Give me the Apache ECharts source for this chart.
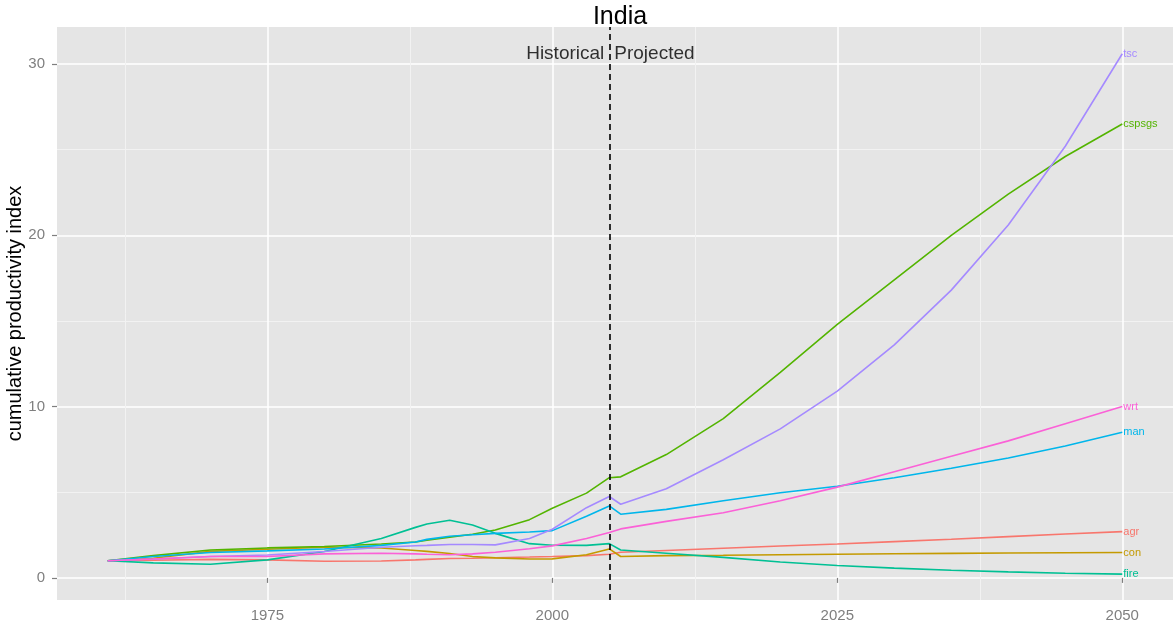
<!DOCTYPE html>
<html>
<head>
<meta charset="utf-8">
<title>India</title>
<script src="https://cdn.jsdelivr.net/npm/echarts@6.0.0/dist/echarts.min.js"></script>
<style>
  html, body { margin: 0; padding: 0; background: #fff; }
  #chart { width: 1174px; height: 630px; }
</style>
</head>
<body>
<div id="chart"></div>
<script>
// values
const years = [1961, 1965, 1970, 1975, 1980, 1985, 1988, 1989, 1991, 1993, 1995, 1998, 2000, 2003, 2005,
               2006, 2010, 2015, 2020, 2025, 2030, 2035, 2040, 2045, 2050];

const agr    = [1.0, 1.03, 1.08, 1.05, 0.97, 0.99, 1.05, 1.08, 1.13, 1.15, 1.18, 1.22, 1.25, 1.3, 1.38,
                1.5, 1.6, 1.73, 1.86, 1.98, 2.12, 2.26, 2.41, 2.56, 2.7];
const con    = [1.0, 1.15, 1.55, 1.67, 1.79, 1.75, 1.6, 1.55, 1.42, 1.25, 1.17, 1.1, 1.11, 1.35, 1.69,
                1.25, 1.3, 1.32, 1.35, 1.38, 1.41, 1.43, 1.45, 1.47, 1.48];
const cspsgs = [1.0, 1.3, 1.63, 1.75, 1.83, 1.98, 2.1, 2.2, 2.38, 2.55, 2.8, 3.4, 4.07, 4.95, 5.85,
                5.9, 7.2, 9.3, 12.0, 14.8, 17.4, 20.0, 22.4, 24.6, 26.5];
const fire   = [1.0, 0.88, 0.8, 1.05, 1.54, 2.3, 2.95, 3.15, 3.37, 3.09, 2.6, 2.0, 1.91, 1.9, 2.0,
                1.63, 1.44, 1.2, 0.93, 0.72, 0.57, 0.45, 0.35, 0.27, 0.22];
const man    = [1.0, 1.25, 1.48, 1.58, 1.69, 1.9, 2.1, 2.25, 2.43, 2.52, 2.6, 2.68, 2.76, 3.6, 4.2,
                3.72, 4.0, 4.5, 4.97, 5.35, 5.85, 6.4, 7.0, 7.7, 8.5];
const tsc    = [1.0, 1.1, 1.25, 1.34, 1.54, 1.79, 1.88, 1.9, 1.95, 1.95, 1.93, 2.3, 2.84, 4.1, 4.75,
                4.3, 5.2, 6.9, 8.7, 10.9, 13.6, 16.8, 20.6, 25.2, 30.6];
const wrt    = [1.0, 1.1, 1.25, 1.25, 1.4, 1.44, 1.4, 1.38, 1.35, 1.4, 1.5, 1.7, 1.87, 2.3, 2.65,
                2.86, 3.3, 3.8, 4.5, 5.3, 6.2, 7.1, 8.0, 9.0, 10.0];

const sectorNames = ['agr', 'con', 'cspsgs', 'fire', 'man', 'tsc', 'wrt'];
const sectorValues = [agr, con, cspsgs, fire, man, tsc, wrt];
const sectorColors = ['#F8766D', '#C49A00', '#53B400', '#00C094', '#00B6EB', '#A58AFF', '#FB61D7'];

const xTicks = [1975, 2000, 2025, 2050];
const xMinor = [1962.5, 1987.5, 2012.5, 2037.5];
const yTicks = [0, 10, 20, 30];
const yMinor = [5, 15, 25];

const splitYear = 2005;
const noteY = 30.6;

const fontFamily = '"Liberation Sans", Arial, sans-serif';
const xMin = 1956.55, xMax = 2054.45;
const yMin = -1.29, yMax = 32.16;

const chart = echarts.init(document.getElementById('chart'));

const lineSeries = sectorNames.map(function (name, i) {
    return {
        name: name,
        type: 'line',
        data: years.map((yr, j) => [yr, sectorValues[i][j]]),
        showSymbol: false,
        lineStyle: { color: sectorColors[i], width: 1.6 },
        itemStyle: { color: sectorColors[i] },
        endLabel: {
            show: true,
            formatter: '{a}',
            color: sectorColors[i],
            fontSize: 11,
            fontFamily: fontFamily,
            distance: 1
        }
    };
});

// dashed divider and the two notes beside it
lineSeries.push({
    type: 'scatter',
    symbolSize: 0,
    silent: true,
    data: [
        { value: [splitYear, noteY], label: { position: 'left', formatter: 'Historical' } },
        { value: [splitYear, noteY], label: { position: 'right', formatter: 'Projected' } }
    ],
    label: { show: true, color: '#000', fontSize: 19, fontFamily: fontFamily, distance: 5 },
    markLine: {
        silent: true,
        symbol: 'none',
        label: { show: false },
        lineStyle: { color: '#000', type: [6, 4], width: 1.6 },
        data: [{ xAxis: splitYear }]
    }
});

const option = {
    animation: false,
    title: {
        text: 'India',
        left: 615,
        top: 0,
        textAlign: 'center',
        textStyle: { fontSize: 25, fontWeight: 'normal', color: '#000', fontFamily: fontFamily }
    },
    grid: {
        left: 57,
        right: 1,
        top: 27,
        bottom: 30,
        outerBoundsMode: 'none',
        containLabel: false,
        show: true,
        backgroundColor: '#E5E5E5',
        borderWidth: 0
    },
    xAxis: [
        {
            type: 'value',
            min: xMin,
            max: xMax,
            axisLine: { show: false },
            axisTick: { show: true, customValues: xTicks, length: 5, lineStyle: { color: '#7f7f7f', width: 1.2 } },
            axisLabel: {
                customValues: xTicks,
                formatter: v => String(v),
                color: '#7f7f7f', fontSize: 15, fontFamily: fontFamily, margin: 8
            },
            splitLine: { show: true, lineStyle: { color: '#ffffff', width: 1.5 } }
        },
        {
            type: 'value',
            min: xMin,
            max: xMax,
            position: 'bottom',
            axisLine: { show: false },
            axisTick: { show: false, customValues: xMinor },
            axisLabel: { show: false, customValues: xMinor },
            splitLine: { show: true, lineStyle: { color: '#F2F2F2', width: 1 } }
        }
    ],
    yAxis: [
        {
            type: 'value',
            min: yMin,
            max: yMax,
            name: 'cumulative productivity index',
            nameLocation: 'middle',
            nameGap: 32,
            nameMoveOverlap: false,
            nameTextStyle: { fontSize: 20, color: '#000', fontFamily: fontFamily },
            axisLine: { show: false },
            axisTick: { show: true, customValues: yTicks, length: 5, lineStyle: { color: '#7f7f7f', width: 1.2 } },
            axisLabel: { customValues: yTicks, color: '#7f7f7f', fontSize: 15, fontFamily: fontFamily, margin: 12 },
            splitLine: { show: true, lineStyle: { color: '#ffffff', width: 1.5 } }
        },
        {
            type: 'value',
            min: yMin,
            max: yMax,
            position: 'left',
            axisLine: { show: false },
            axisTick: { show: false, customValues: yMinor },
            axisLabel: { show: false, customValues: yMinor },
            splitLine: { show: true, lineStyle: { color: '#F2F2F2', width: 1 } }
        }
    ],
    series: lineSeries
};

chart.setOption(option);
</script>
</body>
</html>
